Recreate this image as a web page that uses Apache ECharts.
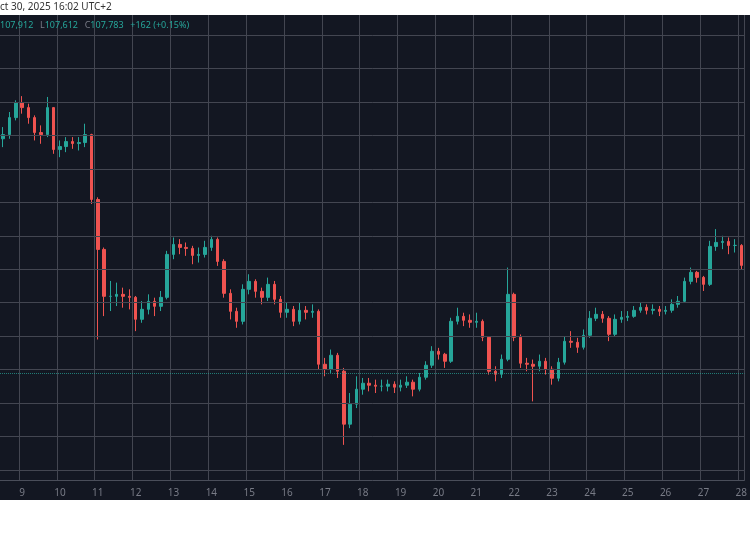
<!DOCTYPE html>
<html><head><meta charset="utf-8">
<script src="https://cdn.jsdelivr.net/npm/echarts@6/dist/echarts.min.js"></script>
<style>html,body{margin:0;padding:0;background:#fff}#c{width:750px;height:536px}</style>
</head><body><div id="c"></div>
<script>
// 4h candles starting Oct 8 12:00 (UTC+2)
const startOpen = 121800;
const closes = [122051,123066,123962,123663,123066,122171,122051,123663,121156,121335,121633,121514,121574,122051,118171,115186,112380,112380,112499,112380,112320,111007,111604,112081,111783,112320,114887,115484,115305,115246,114828,114887,115305,115783,114469,112559,111484,110887,112798,113275,112678,112320,113096,112201,111425,111604,110887,111544,111425,111484,108320,108022,108858,107902,104738,105932,106828,107186,107067,107007,107007,107126,106947,107067,107246,106828,107544,108261,109096,108917,108499,110887,111186,110947,110828,110887,109932,107902,107723,108619,112499,109932,108380,108320,108201,108499,108022,107484,108440,109693,109634,109335,110052,111067,111305,111067,110111,111007,111126,111186,111544,111723,111544,111604,111484,111544,111902,112081,113275,113813,113514,113096,115365,115604,115663,115425,115425,114231];
const highs = [122500,123400,124100,124350,123900,123200,122600,124300,123700,121700,121900,121900,121900,122700,122100,118300,115300,113300,113200,112900,112800,112400,112100,112500,112300,112700,115100,115900,115800,115600,115400,115300,115700,116000,115900,114600,112800,111700,113100,113700,113400,112900,113500,113300,112400,112000,111800,112000,111800,111900,111600,108700,109200,109000,108100,106600,107600,107500,107500,107400,107400,107400,107300,107400,107600,107400,107800,108500,109400,109300,109000,111100,111700,111400,111300,111400,111000,110000,108200,108900,114100,112600,110100,108700,108600,108900,108700,108200,108700,110000,110300,109900,110400,111500,111700,111500,111200,111300,111500,111500,111800,112000,111900,111900,111800,111800,112200,112400,113500,114100,113900,113600,115700,116400,116000,115900,115800,115500];
const lows = [121300,121800,122900,123300,122700,121700,121500,121900,120900,120700,121000,121200,121100,121300,117900,109800,111200,111500,111800,111700,111600,110300,110800,111300,111200,111500,112200,114600,114900,114800,114300,114400,114700,115100,114200,112300,111000,110500,110700,112500,112300,111900,112100,111900,111100,111100,110600,110700,111000,111100,108000,107600,107800,107500,103500,104500,105700,106500,106700,106600,106700,106700,106600,106700,106900,106400,106700,107400,108100,108600,108100,108400,110700,110600,110500,110500,109700,107700,107300,107500,108500,109700,108100,107900,106100,107900,107700,107100,107300,108300,109300,109000,109200,109900,110900,110800,109700,110000,110800,110900,111100,111400,111300,111300,111200,111300,111400,111700,112000,113100,113200,112700,113000,115100,115200,114900,115000,114000];
const gridLevels = [102000,104000,106000,108000,110000,112000,114000,116000,118000,120000,122000,124000,126000,128000];
const lastPrice = 107783;
const dayLabels = ['9','10','11','12','13','14','15','16','17','18','19','20','21','22','23','24','25','26','27','28'];

const cats = closes.map((c,i)=>'c'+i);
const data = closes.map((c,i)=>{const o = i===0?startOpen:closes[i-1];return [o,c,lows[i],highs[i]];});
function dayIndex(i){return (i-3)%6===0 && i>=3 ? (i-3)/6 : -1;}

const chart = echarts.init(document.getElementById('c'));
chart.setOption({
  animation:false,
  backgroundColor:'#ffffff',
  graphic:[
    {type:'rect',shape:{x:0,y:15,width:750,height:485},style:{fill:'#131722'},z:-10,silent:true},
    {type:'text',left:0,top:2,style:{text:'ct 30, 2025 16:02 UTC+2',fill:'#333',font:'10px "Noto Sans", sans-serif'}},
    {type:'text',left:0,top:19,z:100,style:{rich:{
        t:{fill:'#26a69a',font:'9px "Noto Sans", sans-serif'},
        g:{fill:'#787b86',font:'9px "Noto Sans", sans-serif'}},
      text:'{t|107,912}  {g|L}{t|107,612}  {g|C}{t|107,783}  {t|+162 (+0.15%)}'}}
  ],
  grid:{left:0,right:0,top:15,bottom:56},
  xAxis:{type:'category',data:cats,boundaryGap:true,
    axisLine:{lineStyle:{color:'#4a4e5a'}},axisTick:{show:false},
    axisLabel:{interval:(i)=>dayIndex(i)>=0,formatter:(v,i)=>{const d=dayIndex(i);return d>=0?dayLabels[d]:'';},color:'#787b86',fontSize:10,margin:8,fontFamily:'Noto Sans'},
    splitLine:{show:true,interval:(i)=>dayIndex(i)>=0,lineStyle:{color:'#434651',width:1}}},
  yAxis:{type:'value',min:101400,max:129200,show:false,splitLine:{show:false}},
  series:[{type:'candlestick',data:data,barWidth:3,
    itemStyle:{color:'#26a69a',color0:'#ef5350',borderColor:'#26a69a',borderColor0:'#ef5350',borderWidth:1},
    markLine:{silent:true,symbol:'none',label:{show:false},
      data:gridLevels.map(v=>({yAxis:v,lineStyle:{color:'#434651',width:1,type:'solid'}})).concat([{yAxis:lastPrice,lineStyle:{color:'#26a69a',width:1,type:'dotted',opacity:0.7}}])}
  }]
});
</script></body></html>
